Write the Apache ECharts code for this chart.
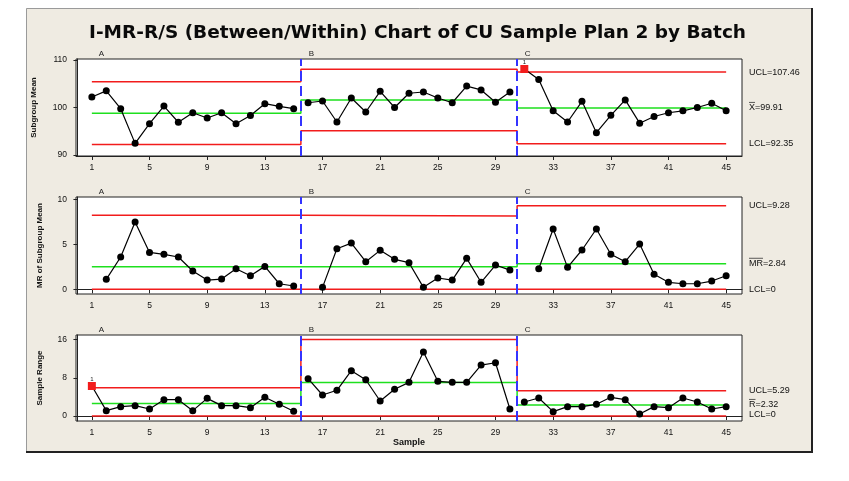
<!DOCTYPE html>
<html>
<head>
<meta charset="utf-8">
<script src="https://cdn.jsdelivr.net/npm/echarts@6/dist/echarts.min.js"></script>
<style>
  html, body { margin: 0; background: #fff; }
  #chart { width: 849px; height: 481px; }
</style>
</head>
<body>
<div id="chart"></div>
<script>
// batches and their first sample
const batches = ['A', 'B', 'C'];
const phaseStart = [1, 16, 31];
const xTicks = [1, 5, 9, 13, 17, 21, 25, 29, 33, 37, 41, 45];

// subgroup means (I chart)
const subgroupMean = [
  102.2, 103.5, 99.75, 92.45, 96.6, 100.3, 96.9, 98.9, 97.8, 98.9, 96.6, 98.3, 100.8, 100.25, 99.75,
  101.0, 101.37, 96.95, 102.0, 99.05, 103.4, 100.0, 103.0, 103.26, 102.0, 101.0, 104.5, 103.7, 101.1, 103.26,
  108.1, 105.9, 99.3, 96.95, 101.3, 94.7, 98.35, 101.6, 96.7, 98.1, 98.9, 99.3, 100.0, 100.9, 99.3
];
const meanUCL = [105.4, 108.04, 107.46];
const meanCL = [98.8, 101.6, 99.91];
const meanLCL = [92.2, 95.1, 92.35];
const meanTicks = [90, 100, 110];

// moving range of subgroup means
const movingRange = [
  null, 1.11, 3.59, 7.48, 4.1, 3.89, 3.59, 2.03, 1.03, 1.14, 2.29, 1.51, 2.55, 0.62, 0.37,
  null, 0.22, 4.51, 5.14, 3.07, 4.33, 3.33, 2.96, 0.22, 1.26, 1.03, 3.44, 0.78, 2.7, 2.14,
  null, 2.29, 6.7, 2.44, 4.37, 6.7, 3.89, 3.07, 5.03, 1.67, 0.78, 0.62, 0.62, 0.92, 1.51
];
const mrUCL = [8.22, 8.14, 9.28];
const mrCL = [2.52, 2.5, 2.84];
const mrLCL = [0, 0, 0];
const mrTicks = [0, 5, 10];

// sample range (within)
const sampleRange = [
  6.29, 1.12, 1.96, 2.17, 1.47, 3.42, 3.42, 1.12, 3.7, 2.17, 2.17, 1.75, 3.92, 2.45, 0.98,
  7.82, 4.4, 5.39, 9.5, 7.61, 3.14, 5.6, 7.06, 13.42, 7.27, 7.06, 7.06, 10.69, 11.17, 1.47,
  2.94, 3.77, 0.91, 1.96, 1.96, 2.45, 3.92, 3.42, 0.42, 1.96, 1.75, 3.77, 2.94, 1.47, 1.96
];
const rUCL = [5.93, 16.02, 5.29];
const rCL = [2.6, 7.02, 2.32];
const rLCL = [0, 0, 0];
const rTicks = [0, 8, 16];

// right side labels [text, value, overline chars]
const meanLabels = [['UCL=107.46', 107.46, 0], ['X=99.91', 99.91, 1], ['LCL=92.35', 92.35, 0]];
const mrLabels = [['UCL=9.28', 9.28, 0], ['MR=2.84', 2.84, 2], ['LCL=0', 0, 0]];
const rLabels = [['UCL=5.29', 5.29, 0], ['R=2.32', 2.32, 1], ['LCL=0', 0.3, 0]];

const FONT = 'Liberation Sans';
const RED = '#f21c1c';
const GREEN = '#1ee01e';
const BLUE = '#3434ff';
const boundaries = phaseStart.slice(1).map(s => s - 0.5);
const lastX = subgroupMean.length;

const chart = echarts.init(document.getElementById('chart'));

const grids = [
  { left: 76, top: 59, width: 666, height: 97 },
  { left: 76, top: 197, width: 666, height: 97 },
  { left: 76, top: 335, width: 666, height: 86 }
];
const yRanges = [[89.79, 110.21], [-0.52, 10.26], [-1.05, 16.99]];
const yTickSets = [meanTicks, mrTicks, rTicks];
const yNames = ['Subgroup Mean', 'MR of Subgroup Mean', 'Sample Range'];
const yNameGaps = [38, 32, 32];

function pointData(vals, ucl) {
  const out = [];
  vals.forEach((v, k) => {
    const x = k + 1;
    if (boundaries.includes(x - 0.5)) out.push([x - 0.5, '-']);
    if (v == null) { out.push([x, '-']); return; }
    const ph = phaseStart.filter(s => s <= x).length - 1;
    if (v > ucl[ph]) {
      out.push({
        value: [x, v], symbol: 'rect', symbolSize: 8,
        itemStyle: { color: RED },
        label: { show: true, formatter: '1', position: 'top', distance: 0, fontSize: 6, color: '#222', fontFamily: FONT }
      });
    } else {
      out.push([x, v]);
    }
  });
  return out;
}

function stepData(vals) {
  const out = [[1, vals[0]]];
  boundaries.forEach((b, i) => { out.push([b, vals[i]]); out.push([b, vals[i + 1]]); });
  out.push([lastX, vals[vals.length - 1]]);
  return out;
}

function limitSeries(idx, vals, color) {
  return {
    type: 'line', xAxisIndex: idx, yAxisIndex: idx, data: stepData(vals),
    symbol: 'none', silent: true, z: 3,
    lineStyle: { color: color, width: 1.5 }
  };
}

const panels = [
  [subgroupMean, meanUCL, meanCL, meanLCL],
  [movingRange, mrUCL, mrCL, mrLCL],
  [sampleRange, rUCL, rCL, rLCL]
];

const series = [];
panels.forEach((p, i) => {
  series.push(limitSeries(i, p[1], RED));
  series.push(limitSeries(i, p[2], GREEN));
  series.push(limitSeries(i, p[3], RED));
  series.push({
    type: 'line', xAxisIndex: i, yAxisIndex: i, data: [], z: 4, silent: true,
    markLine: {
      silent: true, symbol: 'none', label: { show: false },
      lineStyle: { color: BLUE, width: 2, type: [10, 5] },
      data: boundaries.map(b => ({ xAxis: b }))
    }
  });
  series.push({
    type: 'line', xAxisIndex: i, yAxisIndex: i, data: pointData(p[0], p[1]),
    connectNulls: false, symbol: 'circle', symbolSize: 7, z: 5,
    itemStyle: { color: '#000' },
    lineStyle: { color: '#000', width: 1.2 }
  });
});

const option = {
  animation: false,
  title: {
    text: 'I-MR-R/S (Between/Within) Chart of CU Sample Plan 2 by Batch',
    left: 84, top: 19,
    textStyle: { fontFamily: 'DejaVu Sans', fontWeight: 'bold', fontSize: 18.5, color: '#0a0a0a' }
  },
  grid: grids.map(g => Object.assign({
    show: true, backgroundColor: '#fff', borderColor: '#222', borderWidth: 1,
    containLabel: false, outerBoundsMode: 'none'
  }, g)),
  xAxis: grids.map((g, i) => ({
    type: 'value', gridIndex: i, min: -0.1, max: 46.1,
    name: i === 2 ? 'Sample' : '', nameLocation: 'middle', nameGap: 17,
    nameTextStyle: { fontFamily: FONT, fontWeight: 'bold', fontSize: 9, color: '#111' },
    axisLine: { lineStyle: { color: '#222', width: 1 } },
    axisTick: { show: true, length: 4, customValues: xTicks, lineStyle: { color: '#222' } },
    axisLabel: { customValues: xTicks, fontFamily: FONT, fontSize: 8.5, color: '#111', margin: 7 },
    splitLine: { show: false }
  })),
  yAxis: grids.map((g, i) => ({
    type: 'value', gridIndex: i, min: yRanges[i][0], max: yRanges[i][1],
    name: yNames[i], nameLocation: 'middle', nameRotate: 90, nameGap: yNameGaps[i],
    nameTextStyle: { fontFamily: FONT, fontWeight: 'bold', fontSize: 8, color: '#111' },
    axisLine: { show: true, lineStyle: { color: '#222', width: 1 } },
    axisTick: { show: true, length: 4, customValues: yTickSets[i], lineStyle: { color: '#222' } },
    axisLabel: { customValues: yTickSets[i], fontFamily: FONT, fontSize: 8.5, color: '#111', margin: 9 },
    splitLine: { show: false }
  })),
  series: series
};
chart.setOption(option);

// background frame, phase letters and limit labels
const ctx = document.createElement('canvas').getContext('2d');
const elements = [
  { type: 'rect', z: -10, shape: { x: 26, y: 8, width: 786, height: 444 }, style: { fill: '#efebe2' }, silent: true },
  { type: 'polyline', z: -9, shape: { points: [[26.5, 452], [26.5, 8.5], [812, 8.5]] }, style: { stroke: '#9a9a9a', lineWidth: 1, fill: null } },
  { type: 'polyline', z: -9, shape: { points: [[26, 452], [812, 452], [812, 8]] }, style: { stroke: '#222', lineWidth: 2, fill: null } }
];
const rightLabels = [meanLabels, mrLabels, rLabels];
grids.forEach((g, i) => {
  batches.forEach((b, k) => {
    const px = k === 0
      ? chart.convertToPixel({ gridIndex: i }, [1, 0])[0] + 9.5
      : chart.convertToPixel({ gridIndex: i }, [boundaries[k - 1], 0])[0] + 10.5;
    elements.push({
      type: 'text', z: 10, x: px, y: g.top - 5,
      style: { text: b, font: '8px "' + FONT + '"', fill: '#222', align: 'center', verticalAlign: 'middle' }
    });
  });
  rightLabels[i].forEach(l => {
    const py = chart.convertToPixel({ gridIndex: i }, [0, l[1]])[1];
    const lx = g.left + g.width + 7;
    const font = '9px "' + FONT + '"';
    elements.push({
      type: 'text', z: 10, x: lx, y: py,
      style: { text: l[0], font: font, fill: '#111', align: 'left', verticalAlign: 'middle' }
    });
    if (l[2] > 0) {
      ctx.font = font;
      const w = ctx.measureText(l[0].slice(0, l[2])).width;
      elements.push({
        type: 'line', z: 10,
        shape: { x1: lx, y1: py - 5.5, x2: lx + w, y2: py - 5.5 },
        style: { stroke: '#333', lineWidth: 0.8 }
      });
    }
  });
});
chart.setOption({ graphic: { elements: elements } });
</script>
</body>
</html>
